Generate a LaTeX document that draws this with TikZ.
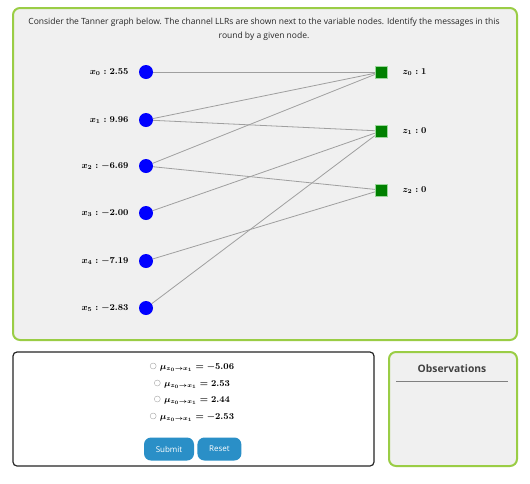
\documentclass[tikz,border=0pt]{standalone}
\usepackage{fontspec}
\setmainfont{Latin Modern Roman}
\newfontfamily\uifont{Open Sans}
\usepackage{amsmath}
\usetikzlibrary{positioning, calc}

\definecolor{panelgreen}{HTML}{9ACD45}
\definecolor{panelgray}{HTML}{F0F0F0}
\definecolor{btnblue}{HTML}{2A8FC7}
\definecolor{varblue}{HTML}{0000FF}
\definecolor{chkgreen}{HTML}{008000}

\pgfdeclarelayer{panels}
\pgfdeclarelayer{edges}
\pgfsetlayers{panels,edges,main}

\tikzset{
  panel/.style={draw=panelgreen, line width=2pt, fill=panelgray, rounded corners=7pt},
  varnode/.style={circle, fill=varblue, minimum size=14pt, inner sep=0pt},
  chknode/.style={rectangle, fill=chkgreen, draw=green!60!black!40, minimum size=12pt, inner sep=0pt},
  edge/.style={draw=gray!75, line width=0.8pt},
  llr/.style={font=\fontsize{8.6}{9}\selectfont\boldmath, anchor=east},
  chklabel/.style={font=\fontsize{8.6}{9}\selectfont\boldmath, anchor=west},
  option/.style={font=\fontsize{9}{10}\selectfont\boldmath},
  radio/.style={circle, draw=gray!70, fill=white, minimum size=6pt, inner sep=0pt},
  button/.style={fill=btnblue, text=white, rounded corners=7pt, minimum height=23pt, font=\uifont\fontsize{8}{9}\selectfont}
}

\begin{document}
\begin{tikzpicture}[x=1pt, y=-1pt]
    \useasboundingbox (0,0) rectangle (530,483);
    \begin{pgfonlayer}{panels}
    \fill[white] (0,0) rectangle (530,483);
    % Question panel
    \draw[panel] (13,8) rectangle (517,340);
    % Answer panel
    \draw[black!85, line width=1.2pt, fill=white, rounded corners=4pt] (13,352) rectangle (374,466);
    % Observations panel
    \draw[panel] (389,352) rectangle (517,466);
    \end{pgfonlayer}
    \node[font=\uifont\fontsize{8.5}{14}\selectfont, align=center, text=black!85] (header) at (264,29)
        {Consider the Tanner graph below. The channel LLRs are shown next to the variable nodes. Identify the messages in this\\round by a given node.};
    % Variable nodes with channel LLRs
    \foreach \i/\y/\val in {0/72/2.55, 1/120/9.96, 2/166/-6.69, 3/213/-2.00, 4/261/-7.19, 5/308/-2.83} {
        \node[varnode] (x\i) at (146,\y) {};
        \node[llr] (lx\i) at (132,\y) {$x_{\i} : \val$};
    }
    % Check nodes
    \foreach \j/\y/\val in {0/72/1, 1/131/0, 2/190/0} {
        \node[chknode] (z\j) at (381,\y) {};
        \node[chklabel] (lz\j) at (399,\y) {$z_{\j} : \val$};
    }
    % Edges of the graph
    \begin{pgfonlayer}{edges}
    \foreach \a/\b in {x0/z0, x1/z0, x1/z1, x2/z0, x2/z2, x3/z1, x4/z2, x5/z1}
        \draw[edge] (\a) -- (\b);
    \end{pgfonlayer}
    % Answer options
    \foreach \k/\y/\val in {1/368/-5.06, 2/385/2.53, 3/401/2.44, 4/418/-2.53} {
        \node[option] (opt\k) at (197,\y) {$\mu_{z_0\to x_1} = \val$};
        \node[radio, left=0pt of opt\k.west, yshift=2pt] (rad\k) {};
    }
    \node[button, minimum width=50pt] (submit) at (169,449) {Submit};
    \node[button, minimum width=44pt, right=3pt of submit] (reset) {Reset};
    \node[font=\uifont\bfseries\fontsize{10.3}{11}\selectfont, text=black!75] (obs) at (452,369) {Observations};
    \draw[gray, line width=0.8pt] (396,381) -- (508,381);
\end{tikzpicture}
\end{document}
